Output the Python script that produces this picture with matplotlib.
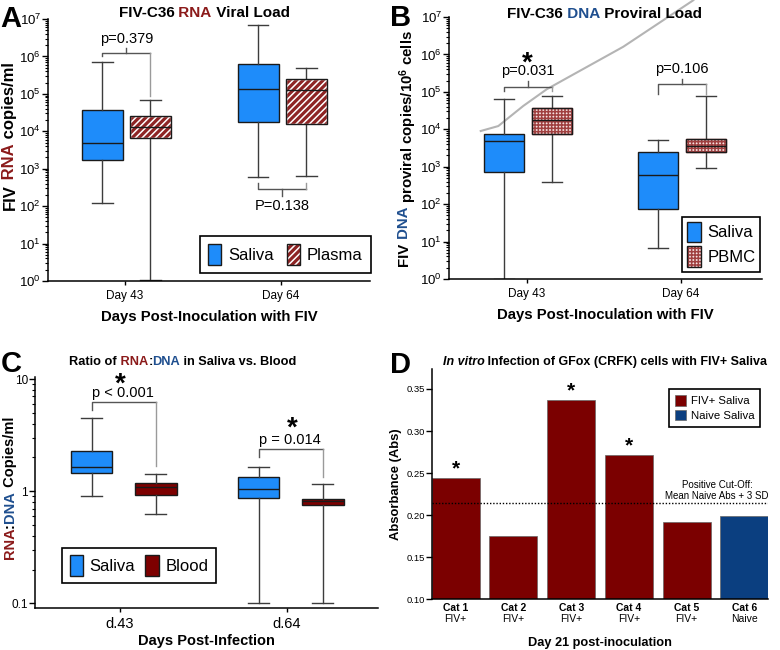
import numpy as np
import matplotlib
matplotlib.use("Agg")
import matplotlib.pyplot as plt
import matplotlib.patches as mpatches
import matplotlib.ticker as mticker
from matplotlib.legend_handler import HandlerTuple

plt.rcParams.update({
    "font.family": ["Liberation Sans", "DejaVu Sans"],
    "font.size": 8,
    "mathtext.default": "regular",
    "axes.linewidth": 1.1,
    "hatch.linewidth": 1.1,
    "xtick.major.width": 1.0,
    "ytick.major.width": 1.0,
    "ytick.minor.width": 0.8,
})

RNA_RED = "#8b1a1a"
DNA_BLUE = "#1f4f8f"
SALIVA_BLUE = "#1e8cfa"
PLASMA_RED = "#8e2424"
PBMC_PINK = "#f5e0e0"
PBMC_RED = "#a04040"
BLOOD_RED = "#7d0000"
BAR_RED = "#7b0000"
BAR_BLUE = "#0b3f80"
EDGE = "#1a1a1a"
WHISK = "#3c3c3c"

# ------------------------------------------------------------------
# data, box stats are [whisker low, Q1, median, Q3, whisker high]
days_ab = ["Day 43", "Day 64"]
rna_saliva = [[1.2e2, 1.7e3, 5.0e3, 3.7e4, 7.3e5],
              [5.9e2, 1.75e4, 1.35e5, 6.2e5, 7.0e6]]
rna_plasma = [[1.07, 6.6e3, 1.3e4, 2.5e4, 6.9e4],
              [6.5e2, 1.6e4, 1.27e5, 2.45e5, 4.8e5]]
rna_pvals = ["p=0.379", "P=0.138"]

dna_saliva = [[1.0, 7.1e2, 4.8e3, 7.5e3, 6.4e4],
              [6.7, 76, 6.0e2, 2.5e3, 5.3e3]]
dna_pbmc = [[3.8e2, 7.4e3, 1.8e4, 3.6e4, 7.7e4],
            [9.1e2, 2.5e3, 3.6e3, 5.6e3, 7.9e4]]
dna_pvals = ["p=0.031", "p=0.106"]
# stray grey line crossing panel B
stray_x = [0.70, 0.814, 0.976, 1.128, 1.236, 1.625, 2.08]
stray_y = [9.0e3, 1.22e4, 4.2e4, 1.17e5, 2.07e5, 1.6e6, 2.8e7]

days_c = ["d.43", "d.64"]
ratio_saliva = [[0.9, 1.45, 1.64, 2.26, 4.5],
                [0.1, 0.87, 1.05, 1.35, 1.64]]
ratio_blood = [[0.62, 0.93, 1.08, 1.19, 1.42],
               [0.1, 0.745, 0.81, 0.855, 1.15]]
ratio_pvals = ["p < 0.001", "p = 0.014"]

cats = ["Cat 1", "Cat 2", "Cat 3", "Cat 4", "Cat 5", "Cat 6"]
cat_status = ["FIV+", "FIV+", "FIV+", "FIV+", "FIV+", "Naive"]
absorbance = [0.2442, 0.1757, 0.3365, 0.2712, 0.1919, 0.1987]
cutoff = 0.2141
significant = [True, False, True, True, False, False]

# ------------------------------------------------------------------
fig = plt.figure(figsize=(7.8, 6.5), dpi=100)
W, H = 780.0, 650.0
TUPLE_MAP = {tuple: HandlerTuple(ndivide=1, pad=0)}


def px_axes(left, top, right, bottom):
    return fig.add_axes([left / W, 1 - bottom / H, (right - left) / W, (bottom - top) / H])


def draw_boxes(ax, stats, pos, face, width=0.26, hatch=None, hatch_col=None):
    st = [dict(whislo=s[0], q1=s[1], med=s[2], q3=s[3], whishi=s[4], fliers=[]) for s in stats]
    art = ax.bxp(st, positions=pos, widths=width, capwidths=width * 0.5, patch_artist=True,
                 showfliers=False, manage_ticks=False,
                 boxprops=dict(facecolor=face, edgecolor=EDGE, linewidth=1.0),
                 medianprops=dict(color=EDGE, linewidth=1.0),
                 whiskerprops=dict(color=WHISK, linewidth=1.0),
                 capprops=dict(color=WHISK, linewidth=1.0))
    if hatch:
        for b in art["boxes"]:
            b.set_hatch(hatch)
            b.set_edgecolor(hatch_col)
            ax.add_patch(mpatches.PathPatch(b.get_path(), fill=False, edgecolor=EDGE, lw=1.0,
                                            zorder=b.get_zorder() + 0.05))
    return art


def bracket(ax, x1, x2, y, y1, y2, ytick=None):
    ax.plot([x1, x1, x2], [y1, y, y], color="#555555", lw=1.0, clip_on=False)
    ax.plot([x2, x2], [y, y2], color="#9a9a9a", lw=1.0, clip_on=False)
    if ytick is not None:
        ax.plot([(x1 + x2) / 2] * 2, [y, ytick], color="#555555", lw=1.0, clip_on=False)


def style_log(ax, lo, hi, labelsize=9.5):
    ax.set_yscale("log")
    ax.set_ylim(lo, hi)
    ax.yaxis.set_major_locator(mticker.LogLocator(10, numticks=15))
    ax.yaxis.set_minor_locator(mticker.LogLocator(10, subs=np.arange(2, 10), numticks=15))
    ax.yaxis.set_minor_formatter(mticker.NullFormatter())
    ax.tick_params(axis="y", which="major", length=4, labelsize=labelsize, pad=1)
    ax.tick_params(axis="y", which="minor", length=2)
    ax.tick_params(axis="x", length=3, labelsize=8.5)
    ax.spines[["top", "right"]].set_visible(False)


def box_legend(ax, handles, labels, **kw):
    leg = ax.legend(handles, labels, fontsize=12, handlelength=0.8, handleheight=1.5,
                    handletextpad=0.4, borderaxespad=0, fancybox=False, framealpha=1,
                    edgecolor="black", handler_map=TUPLE_MAP, **kw)
    leg.get_frame().set_linewidth(1.2)
    return leg


multi_texts = []


def rainbow(ax, x, y, parts, rotation=0, **kw):
    # parts: (text, colour, style); x, y = centre in figure pixels
    prev = None
    group = []
    for s, c, st in parts:
        if prev is None:
            t = ax.text(0, 0, s, color=c, style=st, rotation=rotation, ha="left", va="bottom",
                        transform=fig.transFigure, **kw)
        else:
            xy = (1, 0) if rotation == 0 else (0, 1)
            t = ax.annotate(s, xy=xy, xycoords=prev, color=c, style=st, rotation=rotation,
                            ha="left", va="bottom", **kw)
        group.append(t)
        prev = t
    multi_texts.append((group, x, y))


def panel_letter(x, y_base, s):
    fig.text(x / W, 1 - y_base / H, s, fontsize=21, fontweight="bold", ha="center", va="baseline")


# ------------------------------------------------------------------ A
axA = px_axes(48, 19, 370, 281)
xs = np.arange(1, len(days_ab) + 1)
draw_boxes(axA, rna_saliva, xs - 0.145, SALIVA_BLUE)
draw_boxes(axA, rna_plasma, xs + 0.163, PLASMA_RED, hatch="/////", hatch_col="white")
style_log(axA, 1, 1e7)
axA.set_xlim(0.506, 2.571)
axA.set_xticks(xs, days_ab)
axA.set_xlabel("Days Post-Inoculation with FIV", fontsize=10.7, fontweight="bold", labelpad=6)
bracket(axA, 1 - 0.145, 1 + 0.163, 1.23e6, 1.0e6, 8.5e4, ytick=1.7e6)
axA.text(1.009, 1.9e6, rna_pvals[0], fontsize=10.5, ha="center", va="bottom")
bracket(axA, 2 - 0.145, 2 + 0.163, 2.8e2, 4.2e2, 4.2e2, ytick=1.9e2)
axA.text(2.009, 1.6e2, rna_pvals[1], fontsize=10.5, ha="center", va="top")
h_sal = mpatches.Patch(facecolor=SALIVA_BLUE, edgecolor=EDGE, lw=1.0)
h_pla = (mpatches.Patch(facecolor=PLASMA_RED, edgecolor="white", hatch="/////", lw=0),
         mpatches.Patch(fill=False, edgecolor=EDGE, lw=1.0))
box_legend(axA, [h_sal, h_pla], ["Saliva", "Plasma"], ncol=2, loc="lower right",
           bbox_to_anchor=(1.003, 0.03), columnspacing=0.8, borderpad=0.5)
rainbow(axA, 204, 13, [("FIV-C36", "black", "normal"), (" RNA", RNA_RED, "normal"),
                       (" Viral Load", "black", "normal")], fontsize=11, fontweight="bold")
rainbow(axA, 10, 136, [("FIV", "black", "normal"), (" RNA", RNA_RED, "normal"),
                       (" copies/ml", "black", "normal")], rotation=90, fontsize=12, fontweight="bold")
panel_letter(11, 27, "A")

# ------------------------------------------------------------------ B
axB = px_axes(449, 17, 762, 279)
draw_boxes(axB, dna_saliva, xs - 0.15, SALIVA_BLUE)
draw_boxes(axB, dna_pbmc, xs + 0.16, PBMC_PINK, hatch="+++++", hatch_col=PBMC_RED)
style_log(axB, 1, 1e7)
axB.set_xlim(0.494, 2.526)
axB.set_xticks(xs, days_ab)
axB.set_xlabel("Days Post-Inoculation with FIV", fontsize=10.7, fontweight="bold", labelpad=6)
axB.plot(stray_x, stray_y, color="#b4b4b4", lw=1.5, clip_on=False, zorder=1)
bracket(axB, 1 - 0.15, 1 + 0.16, 1.32e5, 1.07e5, 1.07e5, ytick=1.9e5)
axB.text(1.005, 2.3e5, dna_pvals[0], fontsize=10.5, ha="center", va="bottom")
axB.text(1.005, 5.6e5, "*", fontsize=20, fontweight="bold", ha="center", va="center")
bracket(axB, 2 - 0.15, 2 + 0.16, 1.6e5, 8.7e4, 8.7e4, ytick=2.2e5)
axB.text(2.005, 2.7e5, dna_pvals[1], fontsize=10.5, ha="center", va="bottom")
h_pb = (mpatches.Patch(facecolor=PBMC_PINK, edgecolor=PBMC_RED, hatch="+++++", lw=0),
        mpatches.Patch(fill=False, edgecolor=EDGE, lw=1.0))
box_legend(axB, [h_sal, h_pb], ["Saliva", "PBMC"], loc="lower right",
           bbox_to_anchor=(0.995, 0.028), labelspacing=0.25, borderpad=0.3)
rainbow(axB, 605, 14, [("FIV-C36", "black", "normal"), (" DNA", DNA_BLUE, "normal"),
                       (" Proviral Load", "black", "normal")], fontsize=11, fontweight="bold")
rainbow(axB, 408, 148, [("FIV", "black", "normal"), (" DNA", DNA_BLUE, "normal"),
                        (" proviral copies/10$^{6}$ cells", "black", "normal")],
        rotation=90, fontsize=10.8, fontweight="bold")
panel_letter(401, 26, "B")

# ------------------------------------------------------------------ C
axC = px_axes(35, 377, 378, 608)
draw_boxes(axC, ratio_saliva, xs - 0.17, SALIVA_BLUE, width=0.25)
draw_boxes(axC, ratio_blood, xs + 0.215, BLOOD_RED, width=0.25)
style_log(axC, 10 ** -1.042, 10 ** 1.018, labelsize=8.5)
axC.yaxis.set_major_formatter(mticker.FuncFormatter(lambda v, _: "{:g}".format(v)))
axC.set_xlim(0.491, 2.545)
axC.set_xticks(xs, days_c)
axC.tick_params(axis="x", labelsize=10.5)
axC.set_xlabel("Days Post-Infection", fontsize=10.5, fontweight="bold", labelpad=2)
bracket(axC, 1 - 0.17, 1 + 0.215, 6.19, 5.32, 1.66)
axC.text(1.02, 6.45, ratio_pvals[0], fontsize=10.5, ha="center", va="bottom")
axC.text(1.0, 8.9, "*", fontsize=20, fontweight="bold", ha="center", va="center")
bracket(axC, 2 - 0.17, 2 + 0.215, 2.37, 2.01, 1.35)
axC.text(2.02, 2.5, ratio_pvals[1], fontsize=10.5, ha="center", va="bottom")
axC.text(2.03, 3.6, "*", fontsize=20, fontweight="bold", ha="center", va="center")
h_bl = mpatches.Patch(facecolor=BLOOD_RED, edgecolor=EDGE, lw=1.0)
box_legend(axC, [h_sal, h_bl], ["Saliva", "Blood"], ncol=2, loc="lower left",
           bbox_to_anchor=(0.079, 0.107), columnspacing=0.6, borderpad=0.45)
rainbow(axC, 183, 362, [("Ratio of", "black", "normal"), (" RNA", RNA_RED, "normal"),
                        (":", "black", "normal"), ("DNA", DNA_BLUE, "normal"),
                        (" in Saliva vs. Blood", "black", "normal")], fontsize=9.2, fontweight="bold")
rainbow(axC, 10, 488, [("RNA", RNA_RED, "normal"), (":", "black", "normal"),
                       ("DNA", DNA_BLUE, "normal"), (" Copies/ml", "black", "normal")],
        rotation=90, fontsize=10.5, fontweight="bold")
panel_letter(11, 372, "C")

# ------------------------------------------------------------------ D
axD = px_axes(431.7, 369.3, 768.3, 599.3)
xd = np.arange(len(cats))
bar_cols = [BAR_RED if s == "FIV+" else BAR_BLUE for s in cat_status]
axD.bar(xd, absorbance, width=0.83, color=bar_cols, edgecolor="#666666", lw=0.5)
axD.set_xlim(-0.415, len(cats) - 1 + 0.415)
axD.set_ylim(0.10, 0.3734)
axD.set_yticks(np.arange(0.10, 0.351, 0.05))
axD.yaxis.set_major_formatter(mticker.FormatStrFormatter("%.2f"))
axD.tick_params(axis="y", length=4, labelsize=6.8, pad=1)
axD.tick_params(axis="x", length=0, pad=3)
axD.set_xticks(xd, cats, fontsize=7.5, fontweight="bold")
for i, s in enumerate(cat_status):
    axD.text(xd[i], -0.087, s, fontsize=7.5, ha="center", va="center",
             transform=axD.get_xaxis_transform())
axD.spines[["top", "right"]].set_visible(False)
axD.set_xlabel("Day 21 post-inoculation", fontsize=9.2, fontweight="bold", labelpad=17)
axD.set_ylabel("Absorbance (Abs)", fontsize=9.4, fontweight="bold", labelpad=3)
axD.axhline(cutoff, color="black", ls=(0, (1, 1.3)), lw=1.0)
axD.text(4.53, cutoff + 0.0025, "Positive Cut-Off:\nMean Naive Abs + 3 SD", fontsize=7,
         ha="center", va="bottom", multialignment="center")
for i, sig in enumerate(significant):
    if sig:
        axD.text(xd[i], absorbance[i] + 0.0, "*", fontsize=15, fontweight="bold", ha="center", va="bottom")
hD = [mpatches.Patch(facecolor=BAR_RED, edgecolor="#666666", lw=0.5),
      mpatches.Patch(facecolor=BAR_BLUE, edgecolor="#666666", lw=0.5)]
legD = axD.legend(hD, ["FIV+ Saliva", "Naive Saliva"], loc="upper right", bbox_to_anchor=(0.975, 0.914),
                  fontsize=8.2, handlelength=1.0, handleheight=1.1, handletextpad=0.4, labelspacing=0.3,
                  borderpad=0.5, borderaxespad=0, fancybox=False, framealpha=1, edgecolor="black")
legD.get_frame().set_linewidth(1.2)
rainbow(axD, 605, 362, [("In vitro", "black", "italic"),
                        (" Infection of GFox (CRFK) cells with FIV+ Saliva", "black", "normal")],
        fontsize=9, fontweight="bold")
panel_letter(401, 373, "D")

# ------------------------------------------------------------------ centre the multi-colour texts
fig.canvas.draw()
renderer = fig.canvas.get_renderer()
for group, cx, cy in multi_texts:
    bbs = [t.get_window_extent(renderer) for t in group]
    w = max(b.x1 for b in bbs) - min(b.x0 for b in bbs)
    h = max(b.y1 for b in bbs) - min(b.y0 for b in bbs)
    group[0].set_position((cx / W - w / 2 / fig.bbox.width, 1 - cy / H - h / 2 / fig.bbox.height))

fig.savefig("out.png", dpi=100)
